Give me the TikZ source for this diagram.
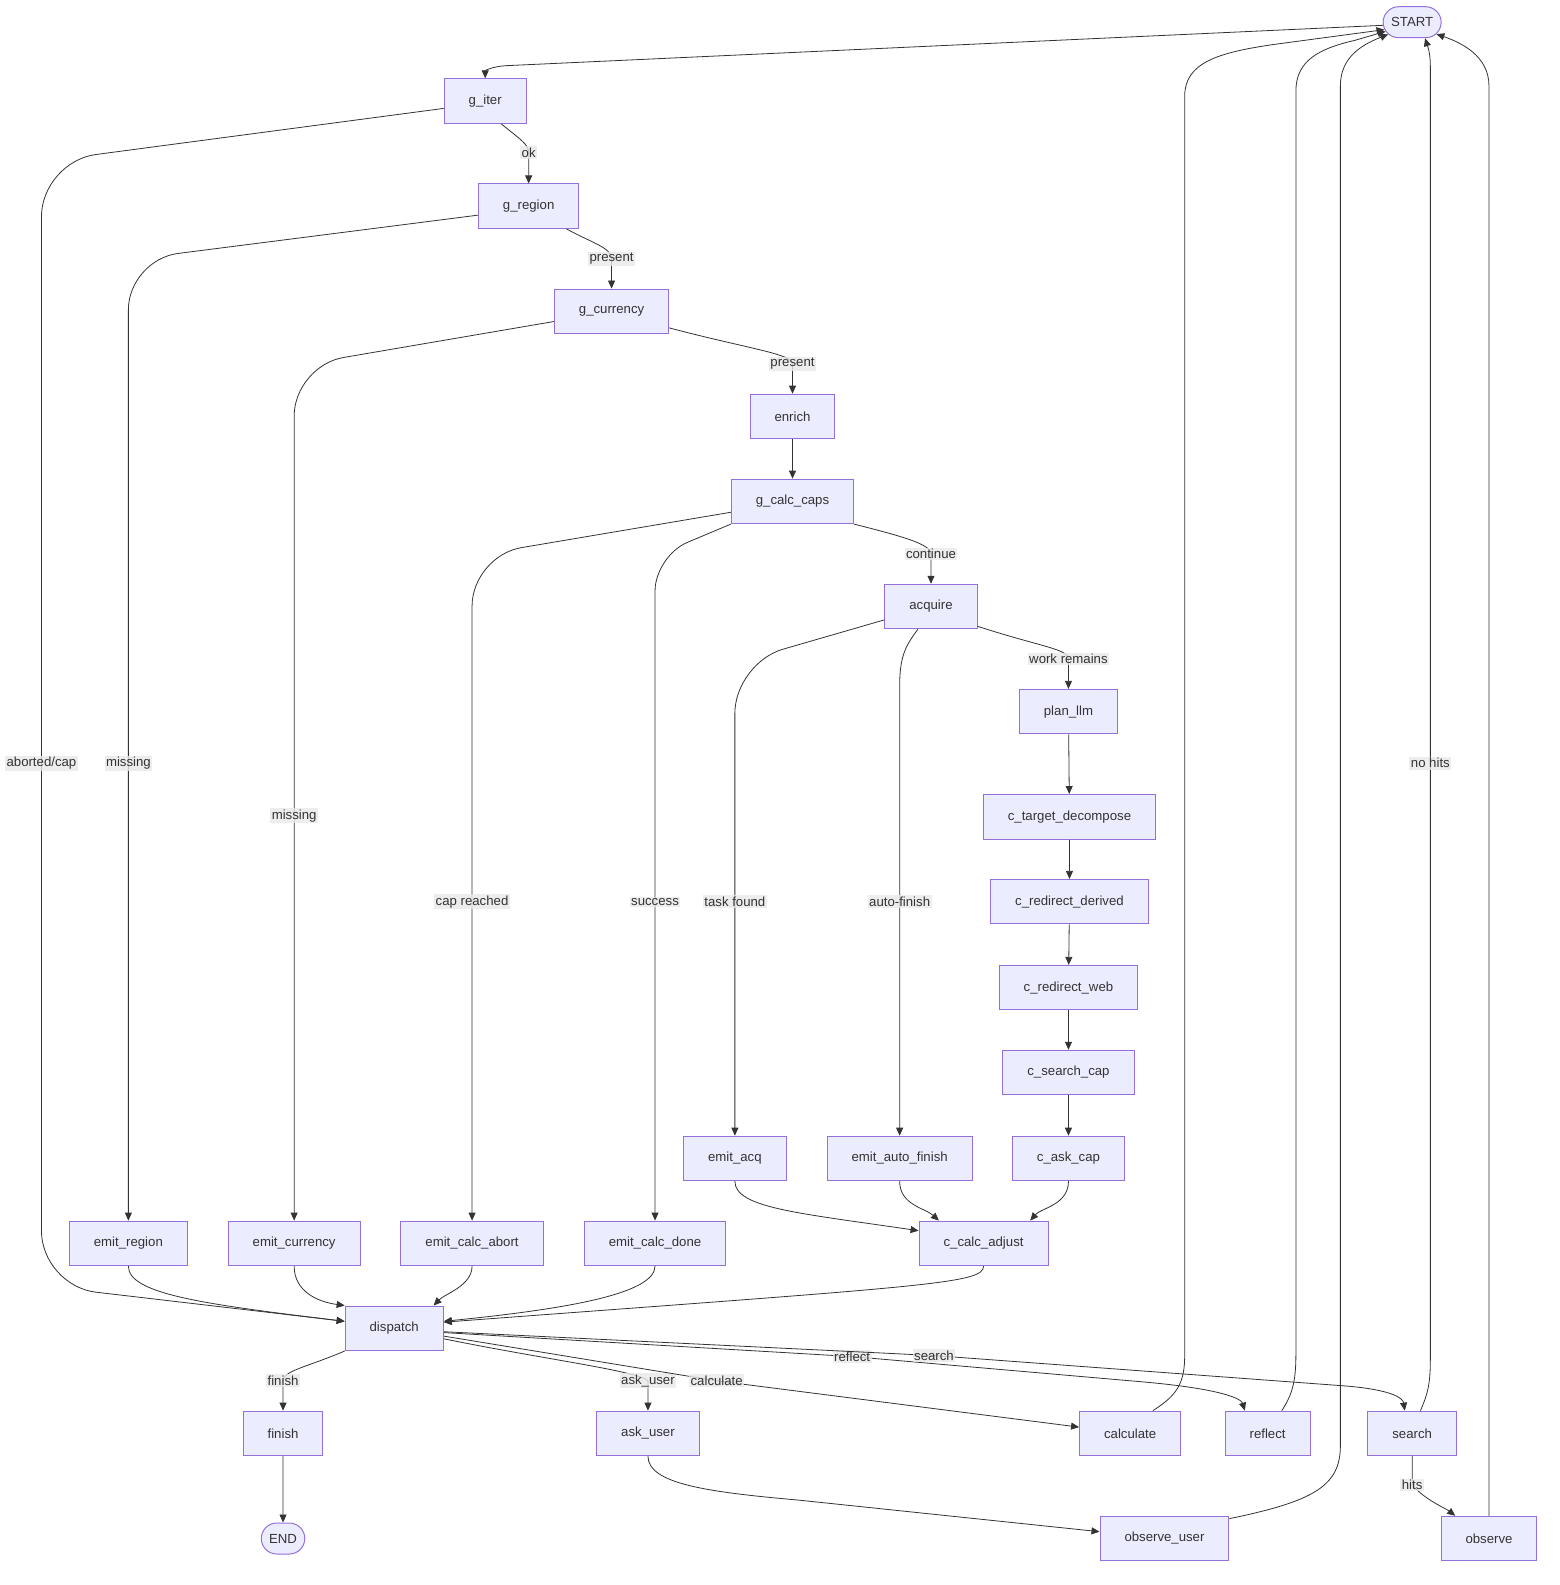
\documentclass[tikz,border=0pt]{standalone}
\usepackage{fontspec}
\setmainfont{Liberation Sans}
\usetikzlibrary{arrows.meta,shapes.misc}
\definecolor{nodefill}{HTML}{ECECFF}
\definecolor{nodeline}{HTML}{9370DB}
\definecolor{ink}{HTML}{333333}
\definecolor{lblfill}{HTML}{E8E8E8}

\begin{document}
\begin{tikzpicture}[x=1.011pt,y=-1.011pt,
        every node/.style={font=\fontsize{13.2}{15}\selectfont,text=ink},
        box/.style={rectangle,draw=nodeline,fill=nodefill,line width=1pt,minimum height=44.5pt,inner xsep=24.5pt,inner ysep=0pt},
        term/.style={rounded rectangle,draw=nodeline,fill=nodefill,line width=1pt,minimum height=31pt,inner xsep=2pt,inner ysep=0pt},
        lbl/.style={sharp corners,fill=lblfill,fill opacity=0.8,text opacity=1,inner sep=1.5pt},
        edge/.style={draw=ink,line width=0.8pt,-{Triangle[length=8pt,width=7pt]}}]
        \useasboundingbox (0,0) rectangle (1543,1568);
        \draw (1397,22)   node[term,minimum width=62pt] (start) {START};
        \draw (480,100)   node[box] (giter) {g\_iter};
        \draw (523,204)   node[box] (gregion) {g\_region};
        \draw (605,308)   node[box] (gcurrency) {g\_currency};
        \draw (784,412)   node[box] (enrich) {enrich};
        \draw (784,496)   node[box] (gcalccaps) {g\_calc\_caps};
        \draw (921,600)   node[box] (acquire) {acquire};
        \draw (1057,704)  node[box] (planllm) {plan\_llm};
        \draw (1058,808)  node[box] (ctarget) {c\_target\_decompose};
        \draw (1058,892)  node[box] (cderived) {c\_redirect\_derived};
        \draw (1057,977)  node[box] (cweb) {c\_redirect\_web};
        \draw (1057,1061) node[box] (csearch) {c\_search\_cap};
        \draw (1057,1146) node[box] (caskcap) {c\_ask\_cap};
        \draw (727,1146)  node[box] (emitacq) {emit\_acq};
        \draw (890,1146)  node[box] (emitauto) {emit\_auto\_finish};
        \draw (973,1230)  node[box] (ccalc) {c\_calc\_adjust};
        \draw (127,1230)  node[box] (emitregion) {emit\_region};
        \draw (291,1230)  node[box] (emitcurrency) {emit\_currency};
        \draw (467,1230)  node[box] (emitabort) {emit\_calc\_abort};
        \draw (648,1230)  node[box] (emitdone) {emit\_calc\_done};
        \draw (390,1314)  node[box] (dispatch) {dispatch};
        \draw (280,1418)  node[box] (finish) {finish};
        \draw (280,1522)  node[term,minimum width=47.5pt] (stop) {END};
        \draw (641,1418)  node[box] (askuser) {ask\_user};
        \draw (1118,1418) node[box] (calculate) {calculate};
        \draw (1254,1418) node[box] (reflect) {reflect};
        \draw (1397,1418) node[box] (search) {search};
        \draw (1152,1522) node[box] (observeuser) {observe\_user};
        \draw (1473,1522) node[box] (observe) {observe};
        \draw[edge] (start.186) -- (500,65) .. controls (486,66) and (480,70) .. (giter.north);
        \draw[edge] (giter.-55) .. controls (515,138) and (523,143) .. (523,151) node[lbl] {ok} -- (gregion.north);
        \draw[edge,rounded corners=55pt] (giter.190) -- (41,160) -- (41,755) node[lbl] {aborted/cap} -- (41,1272) -- (dispatch.172);
        \draw[edge,rounded corners=50pt] (gregion.190) -- (127,257) -- (127,755) node[lbl] {missing} -- (emitregion.north);
        \draw[edge] (gregion.-31) .. controls (585,240) and (605,245) .. (605,256) node[lbl] {present} -- (gcurrency.north);
        \draw[edge,rounded corners=50pt] (gcurrency.190) -- (291,362) -- (291,807) node[lbl] {missing} -- (emitcurrency.north);
        \draw[edge] (gcurrency.-16) .. controls (740,345) and (784,350) .. (784,360) node[lbl] {present} -- (enrich.north);
        \draw[edge] (enrich) -- (gcalccaps);
        \draw[edge,rounded corners=50pt] (gcalccaps.190) -- (467,550) -- (467,892) node[lbl] {cap reached} -- (emitabort.north);
        \draw[edge,rounded corners=35pt] (gcalccaps.south west) -- (648,550) -- (648,892) node[lbl] {success} -- (emitdone.north);
        \draw[edge] (gcalccaps.south east) .. controls (890,530) and (921,538) .. (921,548) node[lbl] {continue} -- (acquire.north);
        \draw[edge,rounded corners=50pt] (acquire.196) -- (727,656) -- (727,892) node[lbl] {task found} -- (emitacq.north);
        \draw[edge] (acquire.240) .. controls (895,640) and (890,650) .. (890,680) -- (890,892) node[lbl] {auto-finish} -- (emitauto.north);
        \draw[edge] (acquire.-23) .. controls (1030,640) and (1057,642) .. (1057,652) node[lbl] {work remains} -- (planllm.north);
        \draw[edge] (planllm) -- (ctarget);
        \draw[edge] (ctarget) -- (cderived);
        \draw[edge] (cderived) -- (cweb);
        \draw[edge] (cweb) -- (csearch);
        \draw[edge] (csearch) -- (caskcap);
        \draw[edge] (emitacq.south) .. controls (727,1195) and (790,1200) .. (ccalc.169);
        \draw[edge] (emitauto.south) .. controls (890,1192) and (915,1195) .. (ccalc.153);
        \draw[edge] (caskcap.south) .. controls (1057,1192) and (1030,1195) .. (ccalc.26);
        \draw[edge] (emitregion.south) .. controls (127,1280) and (200,1290) .. (dispatch.172);
        \draw[edge] (emitcurrency.south) .. controls (291,1278) and (315,1288) .. (dispatch.north west);
        \draw[edge] (emitabort.south) .. controls (467,1272) and (440,1280) .. (dispatch.30);
        \draw[edge] (emitdone.south) .. controls (648,1280) and (560,1295) .. (dispatch.8);
        \draw[edge] (ccalc.south) .. controls (973,1270) and (920,1272) .. (dispatch.7);
        \draw[edge] (dispatch.south west) .. controls (305,1352) and (280,1356) .. (280,1366) node[lbl] {finish} -- (finish.north);
        \draw[edge] (finish) -- (stop);
        \draw[edge] (dispatch.-12) .. controls (540,1345) and (630,1356) .. (641,1366) node[lbl] {ask\_user} -- (askuser.north);
        \draw[edge] (dispatch.-9) -- (709,1366) node[lbl] {calculate} -- (calculate.173);
        \draw[edge] (dispatch.-5) -- (843,1342) node[lbl] {reflect} -- (1130,1367) .. controls (1210,1374) and (1228,1384) .. (reflect.135);
        \draw[edge] (dispatch.-4) -- (924,1341) node[lbl] {search} -- (1330,1371) .. controls (1380,1375) and (1388,1384) .. (search.108);
        \draw[edge] (calculate.45) .. controls (1165,1380) and (1172,1368) .. (1172,1340) -- (1172,95) .. controls (1172,62) and (1205,52) .. (1260,44) -- (start.195);
        \draw[edge] (reflect.58) .. controls (1278,1380) and (1282,1368) .. (1282,1340) -- (1282,90) .. controls (1282,60) and (1305,48) .. (1340,40) -- (start.199);
        \draw[edge] (observeuser.17) .. controls (1300,1485) and (1326,1470) .. (1326,1430) -- (1326,85) .. controls (1326,58) and (1345,45) .. (start.207);
        \draw[edge] (search.70) .. controls (1412,1380) and (1415,1370) .. (1415,1345) -- (1415,755) node[lbl] {no hits} -- (1415,65) .. controls (1415,52) and (1412,45) .. (start.-51);
        \draw[edge] (observe.north) -- (1473,85) .. controls (1473,55) and (1445,42) .. (start.-26);
        \draw[edge] (search.south) -- (1397,1469) node[lbl] {hits} .. controls (1410,1484) and (1430,1492) .. (observe.146);
        \draw[edge] (askuser.south) .. controls (641,1468) and (700,1476) .. (790,1484) -- (observeuser.174);
\end{tikzpicture}
\end{document}
